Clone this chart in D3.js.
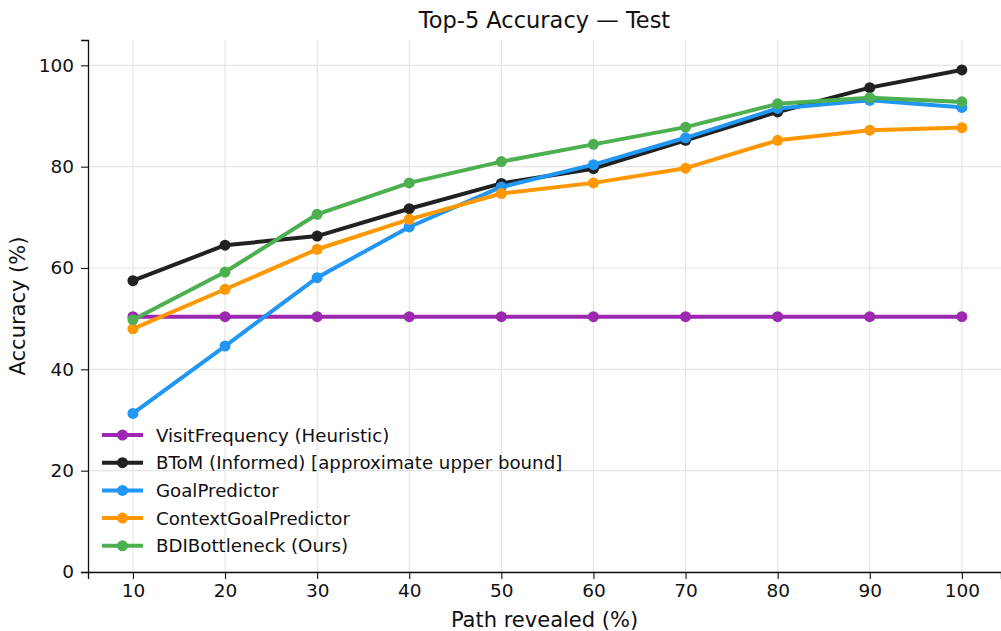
<!DOCTYPE html>
<html>
<head>
<meta charset="utf-8">
<script src="https://cdn.jsdelivr.net/npm/d3@7"></script>
<style>
	body { margin: 0; background: #fff; }
	svg text { font-family: 'DejaVu Sans', sans-serif; fill: #111; }
</style>
</head>
<body>
<svg id="chart" width="1001" height="631"></svg>
<script>
const WIDTH = 1001;
const HEIGHT = 631;

// path revealed (%)
const pathRevealed = [10, 20, 30, 40, 50, 60, 70, 80, 90, 100];

const seriesNames = [
	'VisitFrequency (Heuristic)',
	'BToM (Informed) [approximate upper bound]',
	'GoalPredictor',
	'ContextGoalPredictor',
	'BDIBottleneck (Ours)',
];
const seriesColors = ['#9c27b0', '#212121', '#2196f3', '#ff9800', '#4caf50'];

const visitFrequency = [50.4, 50.4, 50.4, 50.4, 50.4, 50.4, 50.4, 50.4, 50.4, 50.4];
const btom = [57.5, 64.5, 66.3, 71.7, 76.7, 79.6, 85.2, 90.8, 95.6, 99.1];
const goalPredictor = [31.3, 44.6, 58.1, 68.1, 76.0, 80.4, 85.7, 91.5, 93.1, 91.7];
const contextGoalPredictor = [48.0, 55.8, 63.7, 69.6, 74.7, 76.8, 79.7, 85.2, 87.2, 87.7];
const bdiBottleneck = [49.8, 59.2, 70.6, 76.8, 81.0, 84.4, 87.8, 92.4, 93.6, 92.8];

const xTicks = [10, 20, 30, 40, 50, 60, 70, 80, 90, 100];
const yTicks = [0, 20, 40, 60, 80, 100];

const allSeries = [visitFrequency, btom, goalPredictor, contextGoalPredictor, bdiBottleneck];

const margin = { top: 40, right: 0, bottom: 59, left: 88 };

const svg = d3.select('#chart');

const x = d3.scaleLinear()
	.domain([5.12, 104.25])
	.range([margin.left, WIDTH - margin.right]);
const y = d3.scaleLinear()
	.domain([0, 105])
	.range([HEIGHT - margin.bottom, margin.top]);

// grid
const grid = svg.append('g').attr('class', 'grid');
grid.selectAll('line.vgrid')
	.data(xTicks)
	.enter()
	.append('line')
	.attr('x1', (d) => x(d))
	.attr('x2', (d) => x(d))
	.attr('y1', y.range()[0])
	.attr('y2', y.range()[1])
	.attr('stroke', '#e3e3e3')
	.attr('stroke-width', 1.1);
grid.selectAll('line.hgrid')
	.data(yTicks)
	.enter()
	.append('line')
	.attr('x1', x.range()[0])
	.attr('x2', x.range()[1])
	.attr('y1', (d) => y(d))
	.attr('y2', (d) => y(d))
	.attr('stroke', '#e3e3e3')
	.attr('stroke-width', 1.1);

// lines + markers
const line = d3.line()
	.x((d) => x(d[0]))
	.y((d) => y(d[1]));

const plot = svg.append('g');
allSeries.forEach((values, i) => {
	const pts = pathRevealed.map((p, j) => [p, values[j]]);
	const g = plot.append('g');
	g.append('path')
		.datum(pts)
		.attr('d', line)
		.attr('fill', 'none')
		.attr('stroke', seriesColors[i])
		.attr('stroke-width', 4)
		.attr('stroke-linejoin', 'round')
		.attr('stroke-linecap', 'square');
	g.selectAll('circle')
		.data(pts)
		.enter()
		.append('circle')
		.attr('cx', (d) => x(d[0]))
		.attr('cy', (d) => y(d[1]))
		.attr('r', 5.5)
		.attr('fill', seriesColors[i]);
});

// axes
const xAxis = svg.append('g')
	.attr('transform', `translate(0,${y(0)})`)
	.call(d3.axisBottom(x).tickValues(xTicks).tickSize(7).tickPadding(5));
const yAxis = svg.append('g')
	.attr('transform', `translate(${x.range()[0]},0)`)
	.call(d3.axisLeft(y).tickValues(yTicks).tickSize(7).tickPadding(7));

[xAxis, yAxis].forEach((ax) => {
	ax.select('.domain').attr('stroke', '#111').attr('stroke-width', 1.3);
	ax.selectAll('.tick line').attr('stroke', '#111').attr('stroke-width', 1.1);
	ax.selectAll('.tick text')
		.attr('font-family', "'DejaVu Sans', sans-serif")
		.attr('font-size', 18.5)
		.attr('fill', '#111');
});

// titles
svg.append('text')
	.attr('x', (x.range()[0] + x.range()[1]) / 2)
	.attr('y', 28)
	.attr('text-anchor', 'middle')
	.attr('font-size', 22.5)
	.text('Top-5 Accuracy — Test');

svg.append('text')
	.attr('x', (x.range()[0] + x.range()[1]) / 2)
	.attr('y', 627)
	.attr('text-anchor', 'middle')
	.attr('font-size', 21)
	.text('Path revealed (%)');

svg.append('text')
	.attr('transform', `translate(25,${(y.range()[0] + y.range()[1]) / 2}) rotate(-90)`)
	.attr('text-anchor', 'middle')
	.attr('font-size', 21)
	.text('Accuracy (%)');

// legend (no frame)
const legend = svg.append('g').attr('transform', 'translate(102,435)');
const legendItems = legend.selectAll('g')
	.data(seriesNames)
	.enter()
	.append('g')
	.attr('transform', (_d, i) => `translate(0,${i * 27.7})`);
legendItems.append('line')
	.attr('x1', 0)
	.attr('x2', 41)
	.attr('y1', 0)
	.attr('y2', 0)
	.attr('stroke', (_d, i) => seriesColors[i])
	.attr('stroke-width', 4);
legendItems.append('circle')
	.attr('cx', 20.5)
	.attr('cy', 0)
	.attr('r', 5.5)
	.attr('fill', (_d, i) => seriesColors[i]);
legendItems.append('text')
	.attr('x', 54)
	.attr('y', 0)
	.attr('dy', '0.36em')
	.attr('font-size', 18.2)
	.text((d) => d);
</script>
</body>
</html>
